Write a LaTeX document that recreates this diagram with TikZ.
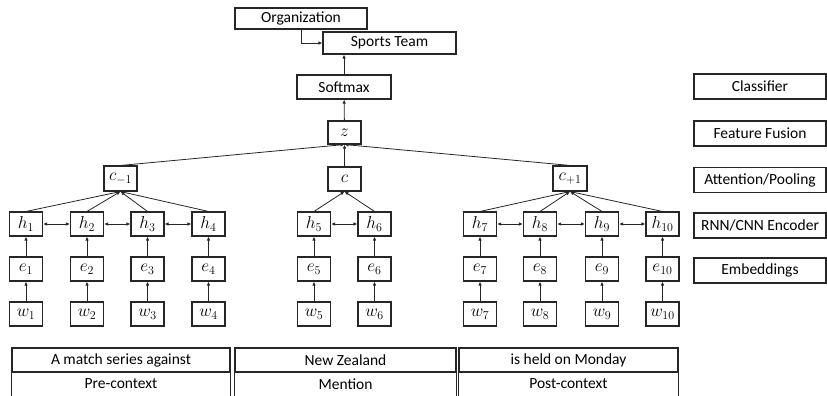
\documentclass[tikz,border=0pt]{standalone}
\usepackage{fontspec}
\setmainfont{Carlito}
\usetikzlibrary{arrows.meta}
\begin{document}
\begin{tikzpicture}[x=1pt,y=-1pt,
  box/.style={draw=black!85, line width=1.1pt, minimum width=33pt, minimum height=24pt, inner sep=0pt, font=\fontsize{18}{20}\selectfont},
  tbox/.style={draw=black!85, line width=1.1pt, minimum height=22pt, inner sep=0pt, font=\fontsize{15.5}{18}\selectfont},
  lbl/.style={draw=black!85, line width=1.1pt, minimum width=132pt, minimum height=25pt, inner sep=0pt, font=\fontsize{15.5}{18}\selectfont},
  cell/.style={draw=black!85, line width=1.1pt, minimum height=24pt, inner sep=0pt, font=\fontsize{15.5}{18}\selectfont},
  txt/.style={inner sep=0pt, font=\fontsize{15.5}{18}\selectfont},
  arr/.style={-{Latex[length=4pt,width=3.5pt]}, line width=0.8pt, draw=black!85},
  dbl/.style={{Latex[length=4pt,width=3.5pt]}-{Latex[length=4pt,width=3.5pt]}, line width=0.8pt, draw=black!85}]
\useasboundingbox (0,0) rectangle (827,396);

% top
\node[tbox, minimum width=132pt, minimum height=21pt] (org) at (301,18.5) {Organization};
\node[tbox, minimum width=133pt] (team) at (389.5,43) {Sports Team};
\node[tbox, minimum width=94pt, minimum height=24pt] (soft) at (344,87) {Softmax};
\node[box, minimum height=23pt] (z) at (344.5,132.5) {$z$};
\node[box] (c) at (344.5,179) {$c$};
\node[box, minimum height=25pt] (cm) at (120.5,178.5) {$c_{-1}$};
\node[box, minimum width=34pt, minimum height=25pt] (cp) at (570,178.5) {$c_{+1}$};

\draw[arr] (org.south) |- (team.west);
\draw[arr] (soft.north) -- (soft.north |- team.south);
\draw[arr] (z) -- (soft);
\draw[arr] (c) -- (z);
\draw[arr] (cm.north) -- (z.south);
\draw[arr] (cp.north) -- (z.south);

% columns
\foreach \i/\x in {1/26,2/87,3/147.5,4/208.5,5/314,6/374.5,7/480,8/540,9/602,10/662.5} {
  \node[box] (h\i) at (\x,224) {$h_{\i}$};
  \node[box] (e\i) at (\x,269) {$e_{\i}$};
  \node[box] (w\i) at (\x,314) {$w_{\i}$};
  \draw[arr] (w\i) -- (e\i);
  \draw[arr] (e\i) -- (h\i);
}
\foreach \a/\b in {1/2,2/3,3/4,5/6,7/8,8/9,9/10} {
  \draw[dbl] (h\a) -- (h\b);
}
\foreach \i in {1,2,3,4} { \draw[arr] (h\i.north) -- (cm.south); }
\foreach \i in {5,6} { \draw[arr] (h\i.north) -- (c.south); }
\foreach \i in {7,8,9,10} { \draw[arr] (h\i.north) -- (cp.south); }

% right labels
\node[lbl] (l1) at (760,86.5) {Classifier};
\node[lbl] (l2) at (760,133.5) {Feature Fusion};
\node[lbl] (l3) at (760,180) {Attention/Pooling};
\node[lbl] (l4) at (760,225.5) {RNN/CNN Encoder};
\node[lbl] (l5) at (760,270.5) {Embeddings};

% bottom table
\node[cell, minimum width=218pt] (t1) at (121,360) {A match series against};
\node[cell, minimum width=221pt] (t2) at (345.5,360) {New Zealand};
\node[cell, minimum width=219pt] (t3) at (568.5,360) {is held on Monday};
\node[txt] (p1) at (121,384) {Pre-context};
\node[txt] (p2) at (345.5,384) {Mention};
\node[txt] (p3) at (568.5,384) {Post-context};
\foreach \t in {t1,t2,t3} {
  \draw[draw=black!85, line width=1.8pt] (\t.south west) -- (\t.south east);
  \draw[draw=black!85, line width=1.1pt] (\t.south west) -- ++(0,26);
  \draw[draw=black!85, line width=1.1pt] (\t.south east) -- ++(0,26);
}
\end{tikzpicture}
\end{document}
